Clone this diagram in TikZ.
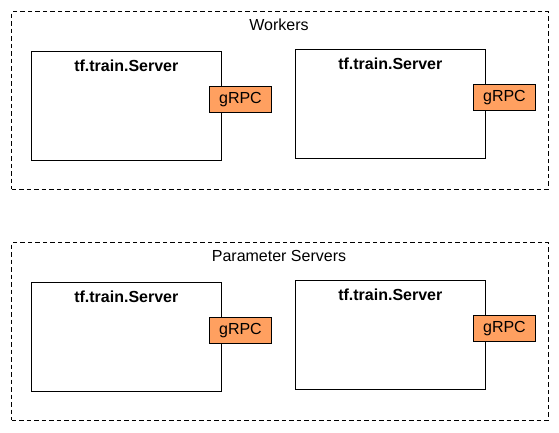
\documentclass[tikz,border=0pt]{standalone}
\usepackage{fontspec}
\setmainfont{Liberation Sans}
\usetikzlibrary{positioning}
\definecolor{grpcorange}{RGB}{255,160,96}

\begin{document}
\begin{tikzpicture}[x=1pt, y=-1pt, line width=0.9pt,
  every node/.style={font=\fontsize{16}{19}\selectfont, inner sep=0pt},
  group/.style={draw, dash pattern=on 4.5pt off 3pt, minimum width=536.6pt, minimum height=177.3pt},
  server/.style={draw, minimum width=190pt, minimum height=108.4pt},
  grpc/.style={draw, fill=grpcorange, minimum width=61.4pt, minimum height=26pt},
  title/.style={font=\fontsize{16}{19}\selectfont\bfseries}]
\useasboundingbox (0,0) rectangle (559,432);

% Groups
\node (workers) [group] at (280,100.3) {};
\node (ps) [group] at (280,331.3) {};
\node (workerslbl) at ([xshift=-1pt,yshift=-14pt]workers.north) {Workers};
\node (pslbl) at ([xshift=-1pt,yshift=-14pt]ps.north) {Parameter Servers};

% Servers
\node (w1) [server] at (126.3,105.8) {};
\node (w2) [server] at (390.3,103.8) {};
\node (p1) [server] at (126.3,336.8) {};
\node (p2) [server] at (390.3,334.9) {};
\node (w1t) [title] at ([yshift=-15pt]w1.north) {tf.train.Server};
\node (w2t) [title] at ([yshift=-15pt]w2.north) {tf.train.Server};
\node (p1t) [title] at ([yshift=-15pt]p1.north) {tf.train.Server};
\node (p2t) [title] at ([yshift=-15pt]p2.north) {tf.train.Server};

% gRPC ports
\node (w1g) [grpc] at ([xshift=18.7pt,yshift=6.5pt]w1.east) {gRPC};
\node (w2g) [grpc] at ([xshift=18.7pt,yshift=6.5pt]w2.east) {gRPC};
\node (p1g) [grpc] at ([xshift=18.7pt,yshift=6.5pt]p1.east) {gRPC};
\node (p2g) [grpc] at ([xshift=18.7pt,yshift=6.5pt]p2.east) {gRPC};

\end{tikzpicture}
\end{document}
